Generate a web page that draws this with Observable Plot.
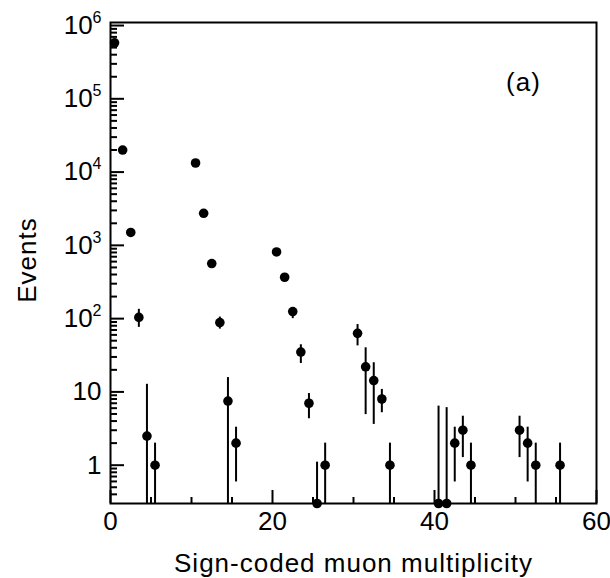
<!DOCTYPE html>
<html><head><meta charset="utf-8">
<script src="https://cdn.jsdelivr.net/npm/d3@7"></script>
<script src="https://cdn.jsdelivr.net/npm/@observablehq/plot@0.6"></script>
<style>html,body{margin:0;padding:0;background:#fff}</style>
</head><body><div id="chart"></div>
<script>
// Bin centres (sign-coded muon multiplicity)
const multiplicity = [0.5, 1.5, 2.5, 3.5, 4.5, 5.5, 10.5, 11.5, 12.5, 13.5, 14.5, 15.5,
  20.5, 21.5, 22.5, 23.5, 24.5, 25.5, 26.5, 30.5, 31.5, 32.5, 33.5, 34.5,
  40.5, 41.5, 42.5, 43.5, 44.5, 50.5, 51.5, 52.5, 55.5];
// Event counts (0 = empty bin, drawn on the axis floor)
const events = [5.8e5, 2.0e4, 1.5e3, 104, 2.5, 1, 1.33e4, 2740, 565, 88.5, 7.5, 2,
  813, 367, 125, 35, 7, 0, 1, 63, 22, 14.3, 8, 1,
  0, 0, 2, 3, 1, 3, 2, 1, 1];
// Upper end of the error bar
const errHigh = [5.8e5, 2.0e4, 1.5e3, 134, 12.7, 2, 1.33e4, 2740, 565, 105, 15.7, 3.3,
  813, 367, 142, 44, 9.5, 1.1, 2, 83, 40, 25, 10.8, 2,
  6.4, 6.1, 3.3, 4.66, 2, 4.66, 3.3, 2, 2];
// Lower end of the error bar (0 = reaches the axis)
const errLow = [5.8e5, 2.0e4, 1.5e3, 76, 0, 0, 1.33e4, 2740, 565, 72, 0, 0.59,
  813, 367, 100, 24.4, 4.3, 0, 0, 42.5, 4.9, 3.6, 5.2, 0,
  0, 0, 0.59, 1.27, 0, 1.27, 0.59, 0, 0];

const xMajorTicks = [0, 20, 40, 60];
const xMinorTicks = [5, 10, 15, 25, 30, 35, 45, 50, 55];
const yMajorTicks = [1, 10, 100, 1e3, 1e4, 1e5, 1e6];
const yTickLabels = ["1", "10", "10^2", "10^3", "10^4", "10^5", "10^6"];
const yMinorTicks = [0.4, 0.5, 0.6, 0.7, 0.8, 0.9,
  2, 3, 4, 5, 6, 7, 8, 9,
  20, 30, 40, 50, 60, 70, 80, 90,
  200, 300, 400, 500, 600, 700, 800, 900,
  2e3, 3e3, 4e3, 5e3, 6e3, 7e3, 8e3, 9e3,
  2e4, 3e4, 4e4, 5e4, 6e4, 7e4, 8e4, 9e4,
  2e5, 3e5, 4e5, 5e5, 6e5, 7e5, 8e5, 9e5];
const xLabel = "Sign-coded muon multiplicity";
const yLabel = "Events";
const panelTag = "(a)";
const yDomain = [0.3, 1.1e6];
const xDomain = [0, 60];

const yFloor = yDomain[0];
const data = multiplicity.map((m, i) => ({
  m,
  n: Math.max(events[i], yFloor),
  hi: Math.max(errHigh[i], yFloor),
  lo: Math.max(errLow[i], yFloor)
}));

const font = "'Liberation Sans', Arial, Helvetica, sans-serif";
const chart = Plot.plot({
  width: 610, height: 578,
  marginTop: 22, marginLeft: 110, marginRight: 14, marginBottom: 75,
  style: {fontFamily: font, background: "#fff", color: "#000", overflow: "visible"},
  x: {domain: xDomain},
  y: {type: "log", domain: yDomain},
  marks: [
    Plot.frame({stroke: "#000", strokeWidth: 2}),
    Plot.axisY(yMajorTicks, {tickSize: 14, dx: 14, strokeWidth: 2, tickFormat: () => "", label: null}),
    Plot.axisY(yMinorTicks, {tickSize: 7, dx: 7, strokeWidth: 2, tickFormat: () => "", label: null}),
    Plot.axisY(yMajorTicks, {tickSize: 0, tickPadding: 9, fontSize: 26, fill: "#000",
      tickFormat: d => yTickLabels[yMajorTicks.indexOf(d)], label: null}),
    Plot.axisX(xMajorTicks, {tickSize: 13, dy: -13, strokeWidth: 2, tickFormat: () => "", label: null}),
    Plot.axisX(xMinorTicks, {tickSize: 6, dy: -6, strokeWidth: 2, tickFormat: () => "", label: null}),
    Plot.axisX(xMajorTicks, {tickSize: 0, tickPadding: 8, fontSize: 26, fill: "#000",
      tickFormat: d => String(d), label: null}),
    Plot.ruleX(data, {x: "m", y1: "lo", y2: "hi", stroke: "#000", strokeWidth: 2}),
    Plot.dot(data, {x: "m", y: "n", r: 4.8, fill: "#000", stroke: null}),
    Plot.text([xLabel], {frameAnchor: "bottom", dy: 60, fontSize: 26, fill: "#000",
      textAnchor: "middle", lineAnchor: "middle"}),
    Plot.text([yLabel], {frameAnchor: "left", rotate: -90, dx: -83, dy: -3, fontSize: 26, fill: "#000",
      textAnchor: "middle", lineAnchor: "middle"}),
    Plot.text([panelTag], {frameAnchor: "top-right", dx: -73, dy: 60, fontSize: 26, fill: "#000",
      textAnchor: "middle", lineAnchor: "middle"})
  ]
});

// Widen letter spacing slightly to match the reference glyph footprint
chart.querySelectorAll("text").forEach(t => {
  const v = t.textContent;
  if (v === xLabel || v === yLabel || v === panelTag) t.setAttribute("letter-spacing", "1");
});

// Render "10^n" tick labels with a raised exponent
chart.querySelectorAll("text").forEach(t => {
  const m = /^10\^(\d+)$/.exec(t.textContent);
  if (!m) return;
  t.textContent = "10";
  const sup = document.createElementNS("http://www.w3.org/2000/svg", "tspan");
  sup.setAttribute("dy", "-11");
  sup.setAttribute("font-size", "16");
  sup.textContent = m[1];
  t.appendChild(sup);
});
document.getElementById("chart").appendChild(chart);
</script>
</body></html>
